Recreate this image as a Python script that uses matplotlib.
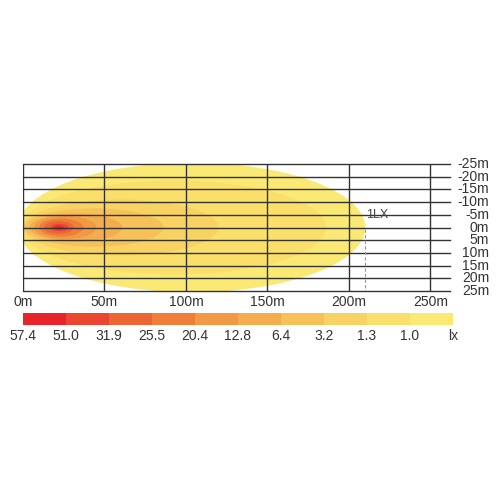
import matplotlib.pyplot as plt
from matplotlib.patches import Ellipse, Rectangle

# lux levels shown in the legend bar (high -> low)
lux_labels = ["57.4", "51.0", "31.9", "25.5", "20.4", "12.8", "6.4", "3.2", "1.3", "1.0"]
lux_colors = ["#e8232a", "#ea4630", "#ec6633", "#ef7e3a", "#f19944",
              "#f4ad4e", "#f6c158", "#f8d262", "#fadf6b", "#fbe976"]

# isolux contours, same order: left edge (m), right edge (m), half width (m)
iso_left = [19, 17, 13, 10, 7, 4, 1, 0, -1, -3]
iso_right = [25, 28, 31, 37, 45, 61, 86, 120, 186, 210]
iso_half = [0.8, 1.5, 2.5, 3.5, 4.5, 5.5, 7.5, 11, 18.5, 25.5]

x_ticks = [0, 50, 100, 150, 200, 250]
y_ticks = [-25, -20, -15, -10, -5, 0, 5, 10, 15, 20, 25]
reach_1lx = 210

plt.rcParams['font.family'] = ['Liberation Sans', 'DejaVu Sans']

fig = plt.figure(figsize=(5, 5), dpi=100)
ax = fig.add_axes([0.046, 0.418, 0.854, 0.254])
ax.set_xlim(0, 262)
ax.set_ylim(25, -25)
ax.axis('off')

# beam, outer to inner
for i in range(len(lux_labels) - 1, -1, -1):
    l, r, h = iso_left[i], iso_right[i], iso_half[i]
    ax.add_patch(Ellipse(((l + r) / 2, 0), r - l, 2 * h,
                         facecolor=lux_colors[i], edgecolor='none', zorder=1))

# grid
for y in y_ticks:
    ax.plot([0, 262], [y, y], color='#333333', lw=1, zorder=3, clip_on=False)
for x in x_ticks:
    ax.plot([x, x], [-25, 25], color='#333333', lw=1, zorder=3)

ax.plot([reach_1lx, reach_1lx], [0.5, 25], color='#999999', lw=0.8,
        ls=(0, (3, 2)), zorder=3)
ax.text(reach_1lx + 0.5, -3.8, "1LX", fontsize=9, color='#444444',
        ha='left', va='baseline', zorder=4)

for x in x_ticks:
    ax.text(x, 29.5, f"{x}m", fontsize=10, color='#333333', ha='center', va='center')
for y in y_ticks:
    ax.text(286, y, f"{y}m", fontsize=10, color='#333333', ha='right', va='center')

# legend bar
bar = fig.add_axes([0.046, 0.35, 0.86, 0.024])
bar.set_xlim(0, len(lux_labels))
bar.set_ylim(0, 1)
bar.axis('off')
for i, c in enumerate(lux_colors):
    bar.add_patch(Rectangle((i, 0), 1, 1, facecolor=c, edgecolor='none'))

for i, t in enumerate(lux_labels + ["lx"]):
    fig.text(0.046 + 0.086 * i, 0.328, t, fontsize=10, color='#333333',
             ha='center', va='center')

fig.savefig("out.png", dpi=100)
